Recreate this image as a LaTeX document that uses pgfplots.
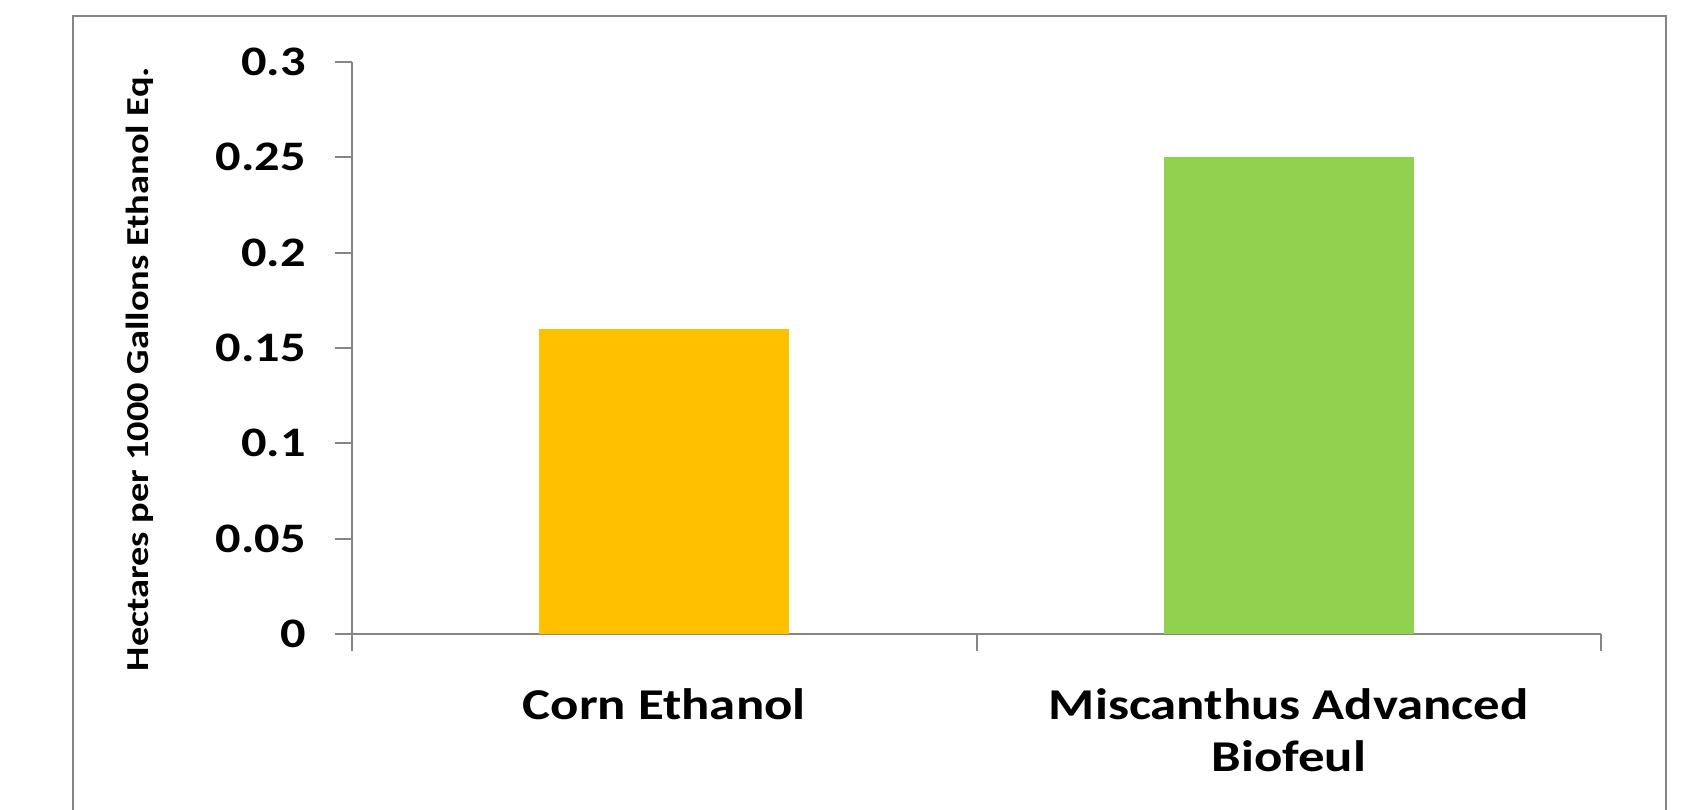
\documentclass[border=0pt]{standalone}
\usepackage{fontspec}
\setmainfont{Carlito}[FakeStretch=1.2]
\usepackage{pgfplots}
\pgfplotsset{compat=1.18}
\definecolor{cornc}{HTML}{FFC000}
\definecolor{miscc}{HTML}{92D050}
\definecolor{axgray}{HTML}{868686}
\begin{document}
\begin{tikzpicture}[x=1pt,y=1pt]
\useasboundingbox (0,0) rectangle (842.5,404.5);
\draw[axgray, line width=1pt] (36.5,-10) -- (36.5,396.5) -- (833,396.5) -- (833,-10);
\begin{axis}[
  at={(176pt,87.5pt)}, anchor=south west,
  scale only axis, width=624.5pt, height=286pt,
  xmin=0, xmax=2, ymin=0, ymax=0.3,
  axis x line*=bottom, axis y line*=left,
  axis line style={axgray, line width=1pt},
  ytick={0,0.05,0.1,0.15,0.2,0.25,0.3},
  yticklabels={0,0.05,0.1,0.15,0.2,0.25,0.3},
  xtick={0,1,2}, xticklabels={},
  tick align=outside, major tick length=8.5pt,
  tick style={axgray, line width=1pt},
  extra x ticks={0.5,1.5},
  extra x tick labels={Corn Ethanol,{Miscanthus Advanced\\Biofeul}},
  extra x tick style={major tick length=0pt, tick style={draw=none}},
  xticklabel style={align=center, font=\bfseries\fontsize{22}{26}\selectfont, yshift=-24pt},
  yticklabel style={font=\bfseries\fontsize{21}{25}\selectfont, xshift=-11pt},
  ylabel={Hectares per 1000 Gallons Ethanol Eq.},
  ylabel style={font=\bfseries\fontsize{16}{19}\selectfont, at={(axis description cs:-0.1697,0.463)}, anchor=center},
]
\addplot[ybar, bar shift=0pt, bar width=0.4, fill=cornc, draw=none] coordinates {(0.5,0.16)};
\addplot[ybar, bar shift=0pt, bar width=0.4, fill=miscc, draw=none] coordinates {(1.5,0.25)};
\end{axis}
\end{tikzpicture}
\end{document}
